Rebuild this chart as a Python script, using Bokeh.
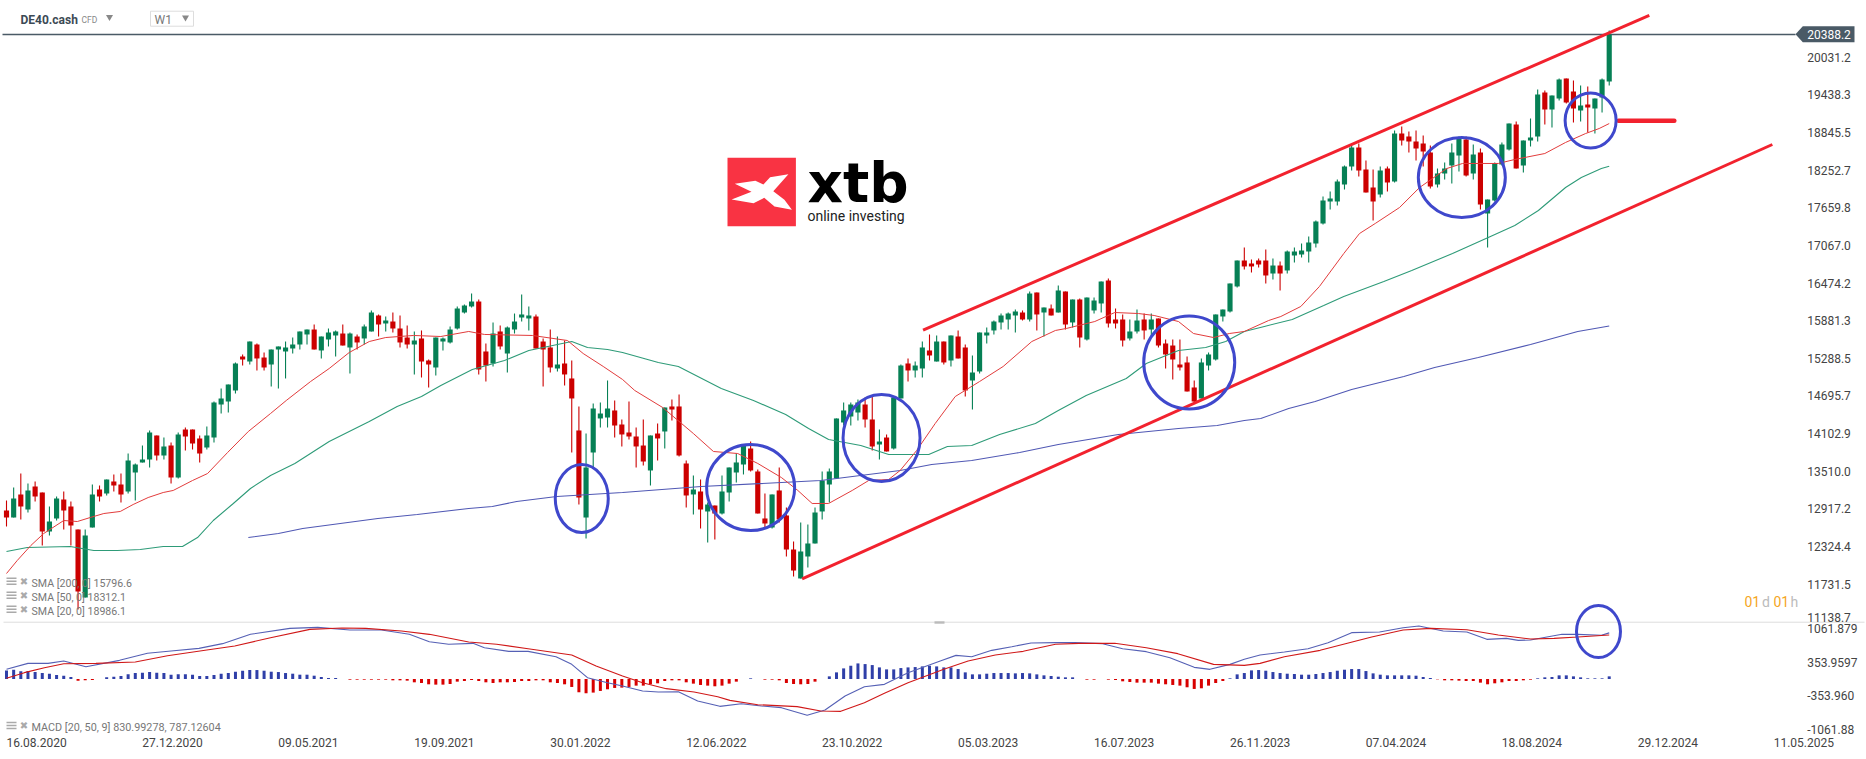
from bokeh.embed import file_html
from bokeh.resources import INLINE
from bokeh.plotting import figure
from bokeh.core.properties import value
from bokeh.models import Range1d, LinearAxis, FixedTicker, NumeralTickFormatter, ColumnDataSource

# ---------- weekly DE40.cash candles (index points), first week = 16.08.2020 ----------
direction = ("RGRGRRGGRR" "RGGRGRRGGG" "GRGRGRRRGG" "GGGRGRRGGG" "GGGRGGGRGR"
             "GGRGRRRGRR" "GGGGGGRRGR" "GGGGRRRGRR" "RGGGGRRRRR" "GRGRRRGRGR"
             "GGGGRRRGRR" "RGGGGGGGGG" "RRGRGGRGGR" "GRGRRGGGGG" "GGRGRGRGRG"
             "RGGGRRRGGR" "GRRRRRRGGG" "GGGRRRRGRG" "GGGGGGGGGR" "RRGRGRRRRR"
             "GGGGRGRGGG" "GRGGGRGGRR" "GRGGG")
wick_high = [
13049,13254,13474,13317,13348,13175,12955,13112,13191,13033,
12592,12592,13301,13285,13380,13459,13474,13789,13632,13915,
14152,14073,14041,13963,14120,14199,14167,14073,14215,14608,
14813,14876,15223,15349,15553,15522,15380,15427,15475,15553,
15616,15711,15742,15821,15632,15758,15727,15821,15695,15664,
15821,16042,15979,15947,16010,15963,15805,15711,15727,15270,
15616,15616,15790,16105,16136,16309,16215,15522,15853,15805,
15790,15994,16294,16105,15979,15601,15742,15632,15569,15254,
14530,14104,14577,14593,14939,14624,14325,14608,14199,14325,
14073,14262,14514,14640,14719,13679,13443,13380,13017,12970,
13443,13569,13789,13915,13978,13537,13159,13144,13569,12939,
12403,12703,12671,12939,13506,13553,14341,14593,14593,14640,
14671,14687,14167,14089,14687,15191,15286,15238,15553,15664,
15648,15553,15648,15727,15506,15333,15695,15774,15884,15994,
16010,16057,16042,16341,16325,16089,16136,16435,16341,16215,
16231,16246,16246,16498,16546,16073,15979,15900,16057,15994,
15994,15916,15585,15585,15585,15317,14939,15286,15380,15979,
16057,16467,16829,17034,16845,16861,17002,16861,16813,16987,
17034,17097,17207,17459,17837,17916,18105,18325,18672,18672,
18404,18262,18309,18309,18877,18940,18861,18877,18798,18640,
18278,18372,18672,18782,18782,18656,18593,17790,18372,18687,
18987,19018,18719,19066,19522,19506,19428,19696,19696,19664,
19585,19570,19380,19696,20451]
body_high = [
12892,13081,13144,13207,13270,13175,12718,13081,13065,12955,
12592,12498,13144,13222,13380,13348,13301,13679,13616,13695,
14120,14073,13900,13915,14089,14167,14167,14026,14073,14593,
14656,14876,15207,15317,15553,15506,15301,15427,15475,15459,
15506,15711,15742,15742,15632,15695,15711,15679,15679,15632,
15790,16010,15963,15884,15868,15758,15616,15569,15601,15254,
15616,15601,15742,16073,16120,16183,16183,15396,15679,15711,
15774,15868,15979,15963,15947,15553,15459,15191,15207,14971,
14152,13569,14498,14419,14498,14467,14246,14120,14057,13915,
14073,14104,14514,14530,14530,13632,13222,13191,12986,12970,
13191,13569,13648,13915,13868,13506,12766,13144,13207,12813,
12277,12246,12372,12860,13364,13506,14341,14467,14561,14593,
14561,14325,13978,14041,14671,15175,15207,15175,15459,15412,
15553,15553,15648,15632,15459,15065,15695,15695,15868,15963,
15994,16026,16010,16309,16325,16089,16073,16357,16341,16215,
16215,16246,16199,16498,16514,15900,15900,15711,15884,15900,
15900,15916,15522,15490,15191,15223,14829,15223,15349,15979,
16057,16467,16829,16829,16782,16829,16829,16750,16750,16971,
16971,16987,17113,17443,17774,17806,18073,18309,18609,18609,
18262,17979,18247,18278,18829,18829,18782,18703,18672,18530,
18199,18278,18530,18750,18735,18499,18530,17790,18357,18656,
18987,18971,18719,18766,19444,19475,19428,19680,19696,19491,
19270,19286,19380,19680,20388]
body_low = [
12781,12781,12955,12907,13112,12561,12561,12766,12892,12655,
11616,11521,12624,13112,13159,13285,13144,13191,13490,13648,
13695,13758,13758,13411,13411,14057,13947,13789,13884,14041,
14561,14608,14782,15270,15238,15286,15144,15191,15427,15396,
15443,15506,15664,15427,15412,15585,15648,15490,15459,15538,
15601,15711,15821,15837,15758,15538,15506,15506,15238,15191,
15144,15553,15538,15758,16010,16105,15112,15175,15207,15475,
15364,15742,15931,15916,15443,15427,15144,15128,15034,14656,
13096,12781,13805,14341,14356,14230,14089,14057,13900,13663,
13522,14026,14136,14482,13758,13128,13144,12907,12876,12844,
12844,13175,13490,13616,13522,12844,12687,12624,12750,12277,
11946,11821,12167,12372,12876,13301,13396,14278,14372,14435,
14325,13900,13931,13821,13868,14656,15097,15097,15128,15333,
15238,15223,15254,15286,14782,14939,15081,15648,15727,15853,
15900,15963,15900,15900,15979,16010,15963,16010,15821,15853,
15616,15585,16042,16152,15837,15837,15569,15601,15711,15727,
15742,15490,15349,15270,15144,14766,14608,14656,15175,15270,
15947,16026,16420,16735,16735,16766,16593,16624,16624,16672,
16908,16924,16971,17097,17412,17758,17758,18026,18309,18247,
17900,17758,17869,18058,18073,18719,18703,18593,18546,17994,
18026,18199,18325,18483,18168,18199,17711,17569,17774,18341,
18577,18278,18325,18719,18782,19207,19207,19380,19318,19223,
19192,19239,19223,19396,19648]
wick_low = [
12640,12781,12750,12860,13033,12340,12498,12734,12592,12340,
11332,11521,12624,13033,13128,13191,13017,13159,13049,13648,
13569,13679,13695,13317,13396,13837,13852,13648,13852,13963,
14419,14435,14734,15175,15191,15097,15097,14845,14813,14971,
15364,15427,15506,15427,15286,15475,15317,15490,15049,15427,
15506,15711,15632,15711,15695,15459,15443,15034,14986,14829,
15018,15412,15522,15742,15994,16089,15034,14923,15160,15427,
15065,15679,15868,15727,15443,14845,15065,15081,14860,13805,
12986,12450,13569,14199,14199,14041,13900,14010,13569,13600,
13285,13679,13868,14309,13742,12939,12829,12608,12387,12435,
12829,13033,13333,13459,13506,12844,12624,12608,12703,12167,
11852,11821,11994,12372,12750,13017,13396,14230,14230,14309,
14199,13837,13695,13821,13852,14656,14923,14986,14986,15254,
15238,15191,15160,15286,14687,14482,15049,15522,15664,15742,
15742,15695,15884,15868,15727,15632,15963,16010,15742,15774,
15459,15569,15994,16010,15774,15758,15475,15569,15679,15585,
15616,15459,15128,14955,15097,14766,14593,14656,15097,15254,
15868,16010,16404,16687,16640,16719,16467,16530,16357,16624,
16798,16876,16798,17034,17396,17632,17695,17947,18247,18152,
17900,17459,17821,17916,18058,18640,18530,18404,18309,17963,
17979,18105,18042,18231,18152,18105,17632,17034,17758,18325,
18562,18278,18215,18624,18703,18971,18924,19349,19302,19003,
19018,18845,18829,19160,19585]

# ---------- moving averages, read at sample weeks ----------
sma20_week = [0,1.5,3.4,5.2,8,9.9,11.7,13.6,15.9,17.7,19.8,21.9,23.3,26,28.1,30.9,33.8,36.9,39.1,42.5,45.1,47.9,50.7,53,56.9,60.7,64.6,66.8,73.5,78.4,80.6,83.4,86.1,87.8,91.7,96,98.8,102.2,105,108.3,110.6,112.6,114.9,118.2,120.5,123.3,124.9,127.2,129.8,132.6,136,139.3,143.3,146.6,148.1,152.1,154.9,158.2,160.4,163.8,165.9,168.7,170.9,173,176.4,178.1,180.9,183.5,186.9,189.1,191.3,194.7,197.5,201.3,203.5,205.7,208.5,210.8,215,217.9,220.7,222.6,224]
sma20_value = [11899,12104,12340,12529,12734,12718,12781,12844,12876,12986,13096,13175,13207,13364,13474,13805,14136,14419,14624,14923,15128,15380,15553,15616,15648,15632,15711,15664,15648,15569,15364,15160,14955,14782,14514,14104,13821,13789,13632,13411,13207,13002,13002,13207,13364,13380,13522,13836,14262,14687,14923,15160,15553,15727,15758,15868,16010,15994,15963,15868,15679,15616,15679,15711,15884,15947,16105,16420,16939,17254,17412,17664,17979,18278,18357,18357,18357,18420,18514,18688,18829,18908,18986]
sma50_week = [0,2.9,8.9,12.2,15.5,18.7,21.9,24.6,26.7,28.9,31.7,34.1,36.9,40.3,45.1,50.7,54.6,58,60.7,65.1,69.6,73,79,81.2,84,86.1,91.1,93.9,99.9,104.4,108.9,112.1,114.9,119.4,123.3,128.9,131.5,134.9,138.8,143.8,147,150.9,156.5,159.3,163.8,167.6,170.4,173,175.8,179.7,184.1,186.9,192.5,196.4,202.1,207.4,210.8,214.1,217.9,220.1,222.9,224]
sma50_value = [12246,12309,12325,12262,12262,12277,12325,12325,12466,12734,13002,13238,13443,13632,13978,14293,14530,14687,14860,15112,15254,15412,15553,15459,15427,15380,15222,15159,14813,14624,14404,14183,14010,13915,13774,13774,13900,13915,14088,14262,14467,14703,14970,15207,15412,15459,15553,15711,15790,15900,16120,16262,16498,16672,16939,17207,17380,17616,17979,18136,18278,18312]
sma200_week = [33.8,38,41.4,51.9,57.4,64.6,67.9,71.3,76.9,86.1,97.1,113.8,124.9,129.3,134.9,141.6,147,155.4,163.8,169.2,173,175.3,179.2,182.9,188,195.3,199.6,205.7,213,219.6,224]
sma200_value = [12466,12529,12608,12766,12829,12923,12955,13033,13112,13175,13270,13364,13522,13616,13679,13805,13931,14089,14183,14230,14309,14340,14498,14608,14797,15002,15144,15301,15506,15711,15797]

# ---------- MACD panel ----------
macd_week = [0,3,5.8,8,11.1,15.8,19.7,23,26.9,30.2,34.1,39.6,43.5,48,52.4,56.3,59.1,61.8,65.2,66.8,70.2,72.9,76.8,79,81.2,84,86.1,88.9,91.1,93.9,96.6,99.7,102.7,105.5,108.3,111.9,114.4,117.2,119.9,122.7,126,130.5,132.7,134.9,137.7,140.5,143.2,146.6,149.3,153.2,156,159.3,162.6,166,168.2,171,173,175.2,178.6,181.9,184.7,188,191.9,195.2,197.4,200.8,204.1,206.9,209.6,211.3,213,217.4,219.6,222.9,224]
macd_value = [204,330,330,380,260,394,542,591,647,746,943,1069,1090,1034,1034,943,788,732,753,661,584,584,471,309,28,-78,-148,-254,-275,-268,-465,-577,-521,-570,-605,-767,-655,-359,-162,-113,134,380,499,471,605,682,760,767,767,746,640,577,450,246,204,309,415,506,570,640,767,978,992,1083,1119,1013,992,837,858,816,823,943,943,922,974]
signal_week = [0,2.5,5.3,8,12.5,18,22.5,28,31.9,36.9,42.4,46.9,50.2,55.2,59.1,64.6,68.5,72.9,79,82.4,86.1,88.9,92.2,96.1,99.4,101.1,105,110.5,113.8,116.6,119.9,122.7,126,131,134.4,138.2,142.1,146.6,149.9,154.9,159.3,163.7,168.7,173,175.2,178.6,183.6,187.4,190.8,195.2,199.1,204.1,208.5,213,216.3,219.6,224]
signal_value = [14,134,239,323,330,359,492,612,696,872,1048,1076,1069,1013,943,781,732,640,506,274,63,-78,-204,-275,-373,-451,-542,-584,-676,-683,-500,-303,-78,204,380,506,584,732,753,753,661,535,309,288,330,471,605,753,886,1034,1069,1041,929,844,858,886,929]
histogram = [
182,196,161,168,147,126,112,84,70,42,
-35,-28,-21,0,35,49,63,98,126,133,
147,133,126,91,98,98,91,63,63,84,
112,126,154,175,189,189,175,154,147,126,
112,91,91,70,42,21,21,0,-14,-14,
-14,-14,-14,-14,-28,-28,-35,-70,-84,-112,
-119,-119,-105,-56,-42,-21,-42,-70,-84,-70,
-70,-63,-42,-42,-28,-28,-70,-84,-112,-168,
-280,-301,-287,-252,-217,-189,-182,-168,-140,-140,
-112,-91,-42,-28,-28,-70,-98,-126,-140,-154,
-140,-98,-56,0,14,0,-14,-14,-28,-84,
-105,-112,-105,-56,0,56,140,224,280,329,
315,294,245,203,203,231,245,252,266,280,
266,245,245,210,140,98,98,112,126,126,
126,119,126,119,98,77,63,49,35,35,
0,-14,-14,0,-14,-21,-49,-63,-77,-77,
-77,-98,-112,-126,-140,-175,-210,-196,-140,-84,
-42,14,98,126,182,189,175,147,126,112,
105,91,91,105,126,147,175,196,210,210,
168,119,91,77,77,77,77,70,42,21,
-7,-28,-28,-35,-42,-42,-77,-112,-91,-70,
-42,-42,-28,-14,14,35,42,77,77,56,
35,14,14,14,56]

# ---------- annotations drawn on the chart, in chart units ----------
upper_channel_week, upper_channel_price = [128.1, 229.6], [15731, 20688]
lower_channel_week, lower_channel_price = [111.2, 246.8], [11816, 18656]
marker_week, marker_price = [225.3, 233.1], [19029, 19029]
ring_week = [80.4, 104.0, 122.3, 165.3, 203.4, 221.4, 222.5]
ring_price = [13081, 13254, 14033, 15223, 18136, 19034, 10986]
last_price = 20388.2

# ---------- axis labels ----------
date_labels = ["16.08.2020","27.12.2020","09.05.2021","19.09.2021","30.01.2022","12.06.2022",
               "23.10.2022","05.03.2023","16.07.2023","26.11.2023","07.04.2024","18.08.2024",
               "29.12.2024","11.05.2025"]
price_ticks = [20031.2,19438.3,18845.5,18252.7,17659.8,17067.0,16474.2,15881.3,15288.5,
               14695.7,14102.9,13510.0,12917.2,12324.4,11731.5]
macd_tick_labels = {1061.879:"1061.879", 353.9597:"353.9597", -353.96:"-353.960", -1061.88:"-1061.88"}
sma_legend = ["SMA [200, 0] 15796.6", "SMA [50, 0] 18312.1", "SMA [20, 0] 18986.1"]
macd_legend = "MACD [20, 50, 9] 830.99278, 787.12604"

# ---------- scales (one week = 7.155 px, one px = 15.75 index points) ----------
W, H = 1866, 759
def wk(px): return (px - 6) / 7.155
def pr(py): return 20924 - 15.75 * py
def mv(py): return (678.5 - py) * 21.11

GREEN, RED = "#068055", "#CC0000"
FONT = "Roboto"

p = figure(width=W, height=H, output_backend="svg", toolbar_location=None,
           x_axis_type=None, y_axis_type=None,
           x_range=Range1d(wk(0), wk(W)), y_range=Range1d(pr(H), pr(0)),
           min_border=0, min_border_left=0, min_border_right=0, min_border_top=0, min_border_bottom=0,
           outline_line_color=None, background_fill_color="white", border_fill_color="white")
p.extra_y_ranges = {"macd": Range1d(mv(H), mv(0))}

weeks = list(range(len(direction)))
colors = [GREEN if d == "G" else RED for d in direction]
candles = ColumnDataSource(dict(week=weeks, wh=wick_high, wl=wick_low, bh=body_high, bl=body_low, color=colors))

# axes
xax = LinearAxis(fixed_location=pr(737.5), ticker=FixedTicker(ticks=[i*19 + 4.2 for i in range(len(date_labels))]),
                 major_label_overrides={i*19 + 4.2: t for i, t in enumerate(date_labels)})
yax = LinearAxis(fixed_location=wk(1800.7), ticker=FixedTicker(ticks=price_ticks),
                 formatter=NumeralTickFormatter(format="0.0"))
max_ = LinearAxis(y_range_name="macd", fixed_location=wk(1800.7), ticker=FixedTicker(ticks=list(macd_tick_labels)),
                  major_label_overrides=macd_tick_labels)
for ax in (xax, yax, max_):
    ax.axis_line_color = None
    ax.major_tick_line_color = None
    ax.minor_tick_line_color = None
    ax.major_tick_in = 0
    ax.major_tick_out = 0
    ax.major_label_standoff = 6
    ax.major_label_text_font = FONT
    ax.major_label_text_font_size = "12px"
    ax.major_label_text_color = "#444444"
xax.major_label_standoff = 0
p.add_layout(xax, "below")
p.add_layout(yax, "right")
p.add_layout(max_, "right")

# panel separator and last price
p.segment(wk(3), pr(621.7), wk(1864), pr(621.7), line_color="#dddddd", line_width=1)
p.quad(left=wk(934), right=wk(944), bottom=pr(623.2), top=pr(620.8), fill_color="#bbbbbb", line_color=None)
p.segment(wk(2), last_price, wk(1795), last_price, line_color="#4a5a66", line_width=1.4)

# candles
p.segment("week", "wh", "week", "wl", source=candles, line_color="color", line_width=1.1)
p.vbar(x="week", top="bh", bottom="bl", width=0.72, source=candles, fill_color="color", line_color=None)

# averages
p.line(sma200_week, sma200_value, line_color="#5058B4", line_width=1.1)
p.line(sma50_week, sma50_value, line_color="#2E9B78", line_width=1.1)
p.line(sma20_week, sma20_value, line_color="#E23C3C", line_width=1.0)

# macd
hist_colors = ["#2F3FA8" if v >= 0 else "#D80000" for v in histogram]
p.vbar(x=weeks, top=histogram, bottom=0, width=0.42, fill_color=hist_colors, line_color=None, y_range_name="macd")
p.line(macd_week, macd_value, line_color="#5560B5", line_width=1.1, y_range_name="macd")
p.line(signal_week, signal_value, line_color="#D01818", line_width=1.1, y_range_name="macd")

# channel + rings
TREND = "#F2222E"
p.line(upper_channel_week, upper_channel_price, line_color=TREND, line_width=3)
p.line(lower_channel_week, lower_channel_price, line_color=TREND, line_width=3)
p.line(marker_week, marker_price, line_color=TREND, line_width=4.5, line_cap="round")
ring_w = [53, 88, 77, 91, 87, 51, 44]
ring_h = [68, 86, 87, 93, 80, 55, 52]
p.ellipse(x=ring_week, y=ring_price, width=ring_w, height=ring_h, width_units="screen", height_units="screen",
          fill_color=None, line_color="#3F48CC", line_width=3)

# logo
p.quad(left=wk(727), right=wk(795.4), top=pr(157.3), bottom=pr(225.7), fill_color="#F93343", line_color=None)
star = [(787.9,173.7),(769.6,176.7),(762.9,184),(754.9,180.3),(734.3,183.3),(751,191.3),(731.1,199),
        (753,202.7),(763.7,197.3),(774,206),(791.4,209.3),(783.9,199.3),(772.8,190.7)]
p.patch([wk(a) for a, b in star], [pr(b) for a, b in star], fill_color="white", line_color=None)

def txt(px, py, s, size, color, font=FONT, style="normal", align="left", base="middle"):
    p.text(x=[wk(px)], y=[pr(py)], text=[s], text_font=value(font), text_font_size=value(size),
           text_color=color, text_font_style=style, text_align=align, text_baseline=base)

txt(807, 182, "xtb", "55px", "#000000", font="DejaVu Sans", style="bold", base="alphabetic")
txt(807, 215, "online investing", "14px", "#222222")

# header
txt(20, 19, "DE40.cash", "12px", "#3c4a55", style="bold")
txt(81, 19.5, "CFD", "8.5px", "#888888")
p.scatter([wk(109)], [pr(16.5)], marker="inverted_triangle", size=7, fill_color="#888888", line_color=None)
p.quad(left=wk(150), right=wk(193), top=pr(10.7), bottom=pr(25.7), fill_color="white", line_color="#dddddd", line_width=1)
txt(154, 19.5, "W1", "12px", "#777777")
p.scatter([wk(185)], [pr(17)], marker="inverted_triangle", size=7, fill_color="#888888", line_color=None)

# price tag
p.patch([wk(1795), wk(1802.3), wk(1854), wk(1854), wk(1802.3)],
        [pr(33.7), pr(25.7), pr(25.7), pr(41.7), pr(41.7)], fill_color="#4a5a66", line_color=None)
txt(1806.7, 34, "20388.2", "12px", "#ffffff")

# out-of-line axis label and countdown
txt(1806.7, 616.7, "11138.7", "12px", "#444444")
for x, s, c in [(1744, "01", "#F5A623"), (1761.5, "d", "#BBBBBB"), (1773, "01", "#F5A623"), (1790, "h", "#BBBBBB")]:
    txt(x, 601, s, "14px", c)

# indicator legends
for py, s, fs in zip([582.7, 596.7, 610.7, 727], sma_legend + [macd_legend], ["10.6px", "10.6px", "10.6px", "10.8px"]):
    for off in (-3, 0, 3):
        p.segment(wk(6), pr(py - 2 + off), wk(16), pr(py - 2 + off), line_color="#aaaaaa", line_width=1.5)
    txt(23.5, py - 2, "\u2716", "10px", "#aaaaaa", font="DejaVu Sans", align="center")
    txt(31, py, s, fs, "#777777")

open("out.html", "w").write(file_html(p, INLINE))
